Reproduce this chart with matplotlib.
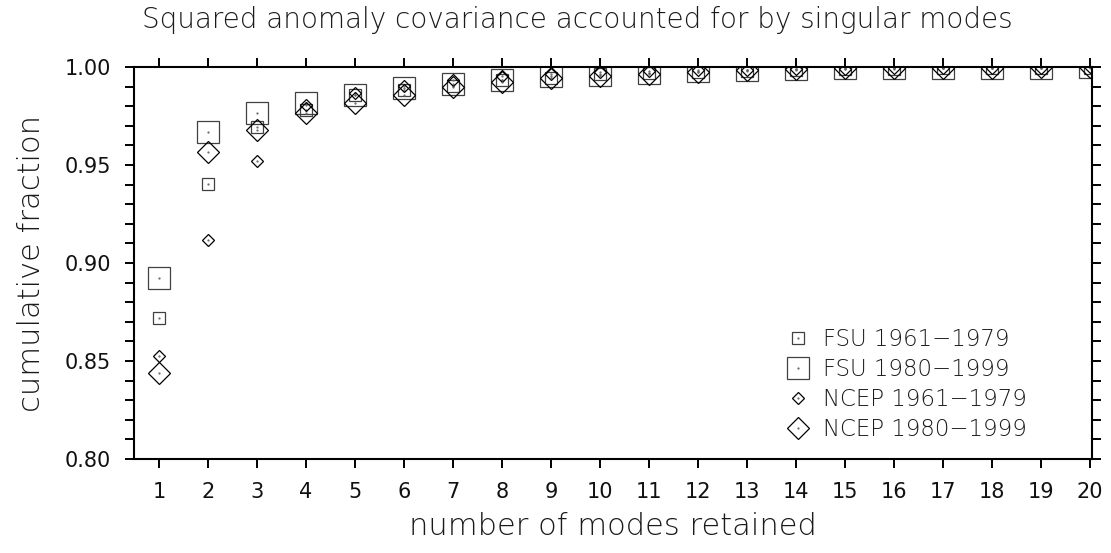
import matplotlib
matplotlib.use("Agg")
import matplotlib.pyplot as plt
from matplotlib.ticker import MultipleLocator
from matplotlib.legend_handler import HandlerTuple
import numpy as np

# number of modes retained
modes = np.arange(1, 21)

# cumulative fraction of squared covariance
fsu_6179 = [0.8718, 0.9405, 0.9693, 0.9781, 0.9857, 0.9882, 0.9903, 0.9932, 0.9945, 0.9962,
            0.9970, 0.9977, 0.9982, 0.9986, 0.9989, 0.9991, 0.9993, 0.9995, 0.9996, 0.9997]
fsu_8099 = [0.8923, 0.9671, 0.9767, 0.9815, 0.9858, 0.9893, 0.9915, 0.9935, 0.9952, 0.9961,
            0.9969, 0.9978, 0.9983, 0.9991, 0.9993, 0.9994, 0.9995, 0.9996, 0.9997, 0.9998]
ncep_6179 = [0.8526, 0.9116, 0.9521, 0.9806, 0.9866, 0.9903, 0.9934, 0.9955, 0.9966, 0.9974,
             0.9980, 0.9984, 0.9987, 0.9990, 0.9992, 0.9994, 0.9995, 0.9996, 0.9997, 0.9998]
ncep_8099 = [0.8440, 0.9566, 0.9681, 0.9766, 0.9814, 0.9859, 0.9898, 0.9923, 0.9944, 0.9952,
             0.9966, 0.9974, 0.9986, 0.9992, 0.9994, 0.9995, 0.9996, 0.9997, 0.9998, 0.9999]

labels = ["FSU 1961\u22121979", "FSU 1980\u22121999", "NCEP 1961\u22121979", "NCEP 1980\u22121999"]

plt.rcParams['font.family'] = ['DejaVu Sans']

fig = plt.figure(figsize=(11.11, 5.53), dpi=100)
ax = fig.add_axes([0.1206, 0.170, 0.8623, 0.7088])

# (values, marker, markersize, edge colour)
series = [
    (fsu_6179, 's', 8.2, '#404040'),
    (fsu_8099, 's', 16.3, '#404040'),
    (ncep_6179, 'D', 6.0, '#000000'),
    (ncep_8099, 'D', 11.5, '#000000'),
]

handles = []
for vals, mk, ms, ec in series:
    h1, = ax.plot(modes, vals, linestyle='none', marker=mk, markersize=ms,
                  markerfacecolor='none', markeredgecolor=ec, markeredgewidth=0.9)
    # tiny centre dot, as in the original plot symbols
    h2, = ax.plot(modes, vals, linestyle='none', marker='.', markersize=1.2,
                  color='#666666')
    handles.append((h1, h2))

ax.set_xlim(1 - 25 / 49, 20 + 2 / 49)
ax.set_ylim(0.80, 1.00)

ax.xaxis.set_major_locator(MultipleLocator(1))
ax.yaxis.set_major_locator(MultipleLocator(0.05))
ax.yaxis.set_minor_locator(MultipleLocator(0.01))
ax.yaxis.set_major_formatter(plt.FormatStrFormatter('%.2f'))

ax.tick_params(axis='both', which='both', direction='out', length=6.5, width=1.4,
               labelsize=15, top=True, right=True, labelcolor='#111111')
ax.tick_params(axis='x', pad=10)
ax.tick_params(axis='y', pad=10)
for sp in ax.spines.values():
    sp.set_linewidth(1.5)

ax.set_xlabel("number of modes retained", fontsize=22, fontweight='light',
              color='#1a1a1a', va='center')
ax.xaxis.set_label_coords(0.5, -0.173)
ax.set_ylabel("cumulative fraction", fontsize=22, fontweight='light',
              color='#1a1a1a', va='center')
ax.yaxis.set_label_coords(-0.1065, 0.5)

fig.text(0.52, 0.964, "Squared anomaly covariance accounted for by singular modes",
         ha='center', va='center', fontsize=20, fontweight='light', color='#1a1a1a')

ax.legend(handles, labels, handler_map={tuple: HandlerTuple(ndivide=1)},
          loc='upper left', bbox_to_anchor=(0.681, 0.334), frameon=False,
          prop={'size': 16.5, 'weight': 'light'}, handlelength=1.0,
          handletextpad=0.6, labelspacing=0.3, borderpad=0, borderaxespad=0,
          labelcolor='#1a1a1a')

fig.savefig("out.png", dpi=100)
